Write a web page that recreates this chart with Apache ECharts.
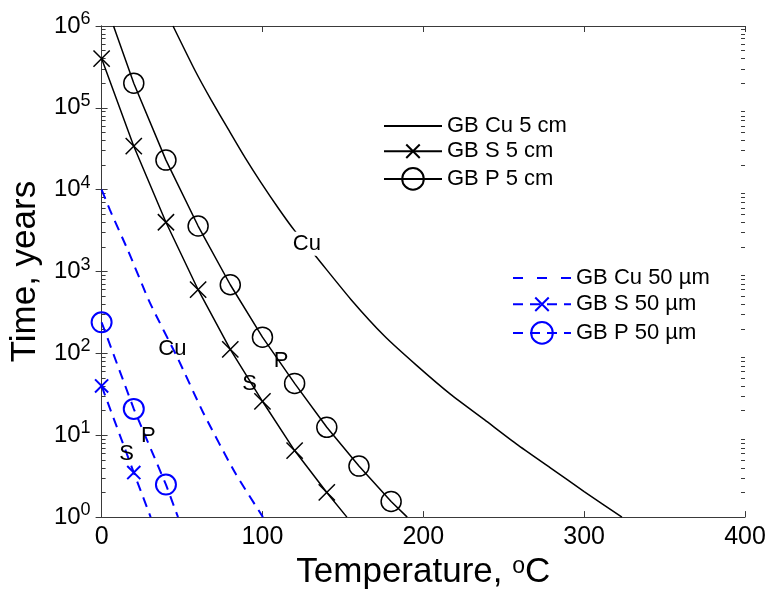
<!DOCTYPE html>
<html>
<head>
<meta charset="utf-8">
<script src="https://cdn.jsdelivr.net/npm/echarts@6/dist/echarts.min.js"></script>
<style>
  html, body { margin: 0; padding: 0; background: #fff; }
  #chart { width: 769px; height: 595px; }
</style>
</head>
<body>
<div id="chart"></div>
<script>
// Grain-boundary penetration time vs temperature (log time scale)

// GB Cu, 5 cm
const cu5Temps = [44.4, 58, 68, 79, 89, 99, 110, 120, 133, 155, 176, 196, 217, 238, 258, 279, 300, 323.5];
const cu5Times = [1e6, 2.88e5, 1.26e5, 5.37e4, 2.5e4, 1.23e4, 5.9e3, 3.16e3, 1.55e3, 457, 162, 71, 31.6, 15.5, 7.8, 4.0, 2.05, 1];

// GB S, 5 cm (markers every 20 °C, curve continues to the axis)
const s5Temps = [0, 20, 40, 60, 80, 100, 120, 140];
const s5Times = [4e5, 3.4e4, 4.0e3, 600, 112, 26, 6.5, 2.0];
const s5EndTemp = 152.5;
const s5EndTime = 1;

// GB P, 5 cm
const p5StartTemp = 7.4;
const p5StartTime = 1e6;
const p5Temps = [20, 40, 60, 80, 100, 120, 140, 160, 180];
const p5Times = [2.0e5, 2.3e4, 3.6e3, 690, 158, 43, 12.5, 4.2, 1.55];
const p5EndTemp = 190;
const p5EndTime = 1;

// GB Cu, 50 µm
const cu50Temps = [0, 5.1, 16.6, 30, 47.6, 63.1, 82.9, 100.3];
const cu50Times = [1e4, 5.7e3, 1.77e3, 417, 85, 19, 3.5, 1];

// GB S, 50 µm
const s50Temps = [0, 20];
const s50Times = [40, 3.5];
const s50EndTemp = 30.5;
const s50EndTime = 1;

// GB P, 50 µm
const p50Temps = [0, 20, 40];
const p50Times = [240, 21, 2.5];
const p50EndTemp = 47.5;
const p50EndTime = 1;

// Curve annotations
const noteTexts = ['Cu', 'P', 'S', 'Cu', 'P', 'S'];
const noteTemps = [127.6, 111.6, 92, 44, 29, 15.5];
const noteTimes = [2190, 80.5, 41.9, 112, 9.8, 5.9];

// Minor log ticks (2..9 in every decade)
const yMinorTicks = [];
for (let e = 0; e < 6; e++) {
  for (let m = 2; m <= 9; m++) yMinorTicks.push(m * Math.pow(10, e));
}

const FONT = '"Liberation Sans", Arial, Helvetica, sans-serif';
const BLACK = '#000000';
const BLUE = '#0000ff';
const FRAME = '#3a3a3a';

// "x" marker with some empty margin so it draws smaller than the circles
const X_MARK = 'path://M-3,-3M0,0L10,10M10,0L0,10M13,13';
const SOLID_ICON = 'path://M0,0H58V2H0Z';
const DASH_ICON = 'path://M0,0H10V2H0Z M24,0H34V2H24Z M48,0H58V2H48Z';

function pairs(xs, ys) { return xs.map((x, i) => [x, ys[i]]); }
function bare(x, y) { return { value: [x, y], symbol: 'none' }; }

// Log axis that only carries the 2..9 minor ticks on one side of the frame
function minorTickAxis(side) {
  return {
    type: 'log', logBase: 10, min: 1, max: 1e6, interval: 1, position: side,
    axisLine: { show: false },
    axisTick: { show: true, inside: true, length: 4, customValues: yMinorTicks, lineStyle: { color: FRAME } },
    axisLabel: { show: false },
    splitLine: { show: false }
  };
}

const chart = echarts.init(document.getElementById('chart'), null, { renderer: 'canvas' });

const option = {
  animation: false,
  backgroundColor: '#ffffff',
  grid: { left: 100, right: 24, top: 26, bottom: 77, containLabel: false },
  legend: [
    {
      orient: 'vertical', left: 378, top: 110, itemWidth: 58, itemHeight: 27, itemGap: 1,
      textStyle: { fontSize: 22, color: BLACK, fontFamily: FONT },
      data: [
        { name: 'GB Cu 5 cm', icon: SOLID_ICON, itemStyle: { borderWidth: 0 } },
        { name: 'GB S 5 cm' },
        { name: 'GB P 5 cm' }
      ],
      selectedMode: false
    },
    {
      orient: 'vertical', left: 507, top: 262, itemWidth: 58, itemHeight: 27, itemGap: 2,
      textStyle: { fontSize: 22, color: BLACK, fontFamily: FONT },
      data: [
        { name: 'GB Cu 50 µm', icon: DASH_ICON, itemStyle: { borderWidth: 0 } },
        { name: 'GB S 50 µm' },
        { name: 'GB P 50 µm' }
      ],
      selectedMode: false
    }
  ],
  xAxis: [
    {
      type: 'value', min: 0, max: 400, interval: 100, position: 'bottom',
      axisLine: { show: true, lineStyle: { color: FRAME, width: 1 } },
      axisTick: { show: true, inside: true, length: 6, lineStyle: { color: FRAME } },
      axisLabel: { fontSize: 25, color: BLACK, fontFamily: FONT, margin: 8 },
      splitLine: { show: false },
      name: 'Temperature, {o|o}C',
      nameLocation: 'middle', nameGap: 33,
      nameTextStyle: {
        fontSize: 35, color: BLACK, fontFamily: FONT,
        rich: { o: { fontSize: 23, lineHeight: 18, color: BLACK, fontFamily: FONT, verticalAlign: 'top' } }
      }
    },
    {
      type: 'value', min: 0, max: 400, interval: 100, position: 'top',
      axisLine: { show: true, lineStyle: { color: FRAME, width: 1 } },
      axisTick: { show: true, inside: true, length: 6, lineStyle: { color: FRAME } },
      axisLabel: { show: false },
      splitLine: { show: false }
    }
  ],
  yAxis: [
    {
      type: 'log', logBase: 10, min: 1, max: 1e6, interval: 1, position: 'left',
      axisLine: { show: true, lineStyle: { color: FRAME, width: 1 } },
      axisTick: { show: true, inside: true, length: 6, lineStyle: { color: FRAME } },
      axisLabel: {
        margin: 11,
        formatter: v => '{b|10}{s|' + Math.round(Math.log10(v)) + '}',
        rich: {
          b: { fontSize: 24, lineHeight: 32, color: BLACK, fontFamily: FONT },
          s: { fontSize: 18, color: BLACK, fontFamily: FONT, verticalAlign: 'top' }
        }
      },
      splitLine: { show: false },
      name: 'Time, years',
      nameLocation: 'middle', nameGap: 58,
      nameTextStyle: { fontSize: 35, color: BLACK, fontFamily: FONT }
    },
    {
      type: 'log', logBase: 10, min: 1, max: 1e6, interval: 1, position: 'right',
      axisLine: { show: true, lineStyle: { color: FRAME, width: 1 } },
      axisTick: { show: true, inside: true, length: 6, lineStyle: { color: FRAME } },
      axisLabel: { show: false },
      splitLine: { show: false }
    },
    minorTickAxis('left'),
    minorTickAxis('right')
  ],
  series: [
    {
      name: 'GB Cu 5 cm', type: 'line', symbol: 'none', smooth: 0.2,
      data: pairs(cu5Temps, cu5Times),
      itemStyle: { color: BLACK },
      lineStyle: { color: BLACK, width: 1.5 }
    },
    {
      name: 'GB S 5 cm', type: 'line', symbol: X_MARK, symbolSize: 26,
      data: pairs(s5Temps, s5Times).concat([bare(s5EndTemp, s5EndTime)]),
      itemStyle: { color: 'none', borderColor: BLACK, borderWidth: 1.5 },
      lineStyle: { color: BLACK, width: 1.5 }
    },
    {
      name: 'GB P 5 cm', type: 'line', symbol: 'circle', symbolSize: 20,
      data: [bare(p5StartTemp, p5StartTime)].concat(pairs(p5Temps, p5Times), [bare(p5EndTemp, p5EndTime)]),
      itemStyle: { color: 'none', borderColor: BLACK, borderWidth: 1.5 },
      lineStyle: { color: BLACK, width: 1.5 }
    },
    {
      name: 'GB Cu 50 µm', type: 'line', symbol: 'none', smooth: 0.2,
      data: pairs(cu50Temps, cu50Times),
      itemStyle: { color: BLUE },
      lineStyle: { color: BLUE, width: 2, type: [10, 7] }
    },
    {
      name: 'GB S 50 µm', type: 'line', symbol: X_MARK, symbolSize: 21,
      data: pairs(s50Temps, s50Times).concat([bare(s50EndTemp, s50EndTime)]),
      itemStyle: { color: 'none', borderColor: BLUE, borderWidth: 2 },
      lineStyle: { color: BLUE, width: 2, type: [10, 7] }
    },
    {
      name: 'GB P 50 µm', type: 'line', symbol: 'circle', symbolSize: 20,
      data: pairs(p50Temps, p50Times).concat([bare(p50EndTemp, p50EndTime)]),
      itemStyle: { color: 'none', borderColor: BLUE, borderWidth: 2 },
      lineStyle: { color: BLUE, width: 2, type: [10, 7] }
    },
    {
      // curve annotations
      type: 'scatter', symbol: 'rect', symbolSize: 1, z: 5, silent: true,
      itemStyle: { color: 'none', opacity: 1 },
      data: noteTexts.map((t, i) => ({
        name: t, value: [noteTemps[i], noteTimes[i]],
        label: i === 0 ? { backgroundColor: '#ffffff', padding: [1, 2] } : {}
      })),
      label: {
        show: true, position: 'inside', formatter: p => p.name,
        fontSize: 22, color: '#000000', opacity: 1, textBorderWidth: 0,
        fontFamily: FONT
      },
      emphasis: { disabled: true }
    }
  ]
};

chart.setOption(option);
</script>
</body>
</html>
